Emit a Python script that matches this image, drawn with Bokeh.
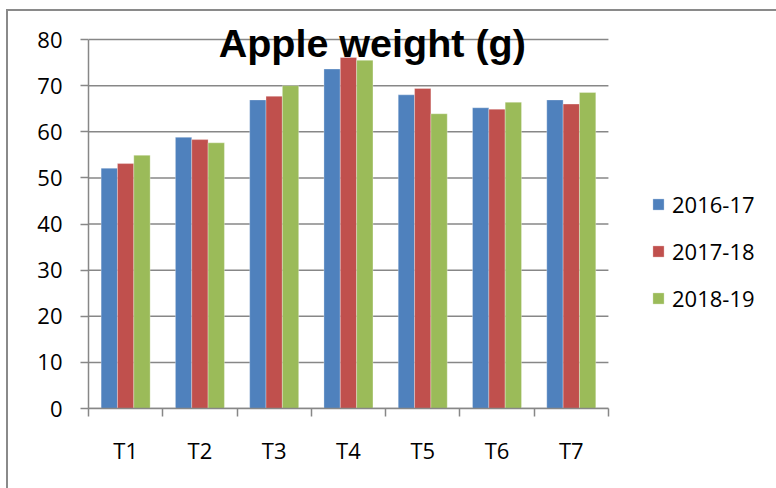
from bokeh.plotting import figure
from bokeh.models import (ColumnDataSource, Range1d, FixedTicker, Legend, LegendItem, Label)
from bokeh.transform import dodge
from bokeh.embed import file_html
from bokeh.resources import INLINE

categories = ["T1", "T2", "T3", "T4", "T5", "T6", "T7"]
series_names = ["2016-17", "2017-18", "2018-19"]
s2016_17 = [52.1, 58.8, 66.9, 73.6, 68.0, 65.2, 66.9]
s2017_18 = [53.1, 58.3, 67.7, 76.1, 69.4, 64.9, 66.0]
s2018_19 = [54.9, 57.6, 70.0, 75.5, 63.9, 66.4, 68.5]
y_ticks = [0, 10, 20, 30, 40, 50, 60, 70, 80]
title_text = "Apple weight (g)"

colors = ["#4F81BD", "#C0504D", "#9BBB59"]
GRID = "#878787"
FONT = "Open Sans"

n = len(categories)
centers = [i + 0.5 for i in range(n)]   # category slot centres on a 0..n axis
edges = list(range(n + 1))              # category boundaries
x_end = n + 2.263                       # blank room at the right for the legend
y_max = 80
y_end = y_max + 5.854                   # headroom so the title is not clipped

src = ColumnDataSource(dict(x=centers, cat=categories, a=s2016_17, b=s2017_18, c=s2018_19))
grid_src = ColumnDataSource(dict(x0=[0] * len(y_ticks), x1=[n] * len(y_ticks), y=y_ticks))

p = figure(width=776, height=488, x_range=Range1d(0, x_end), y_range=Range1d(0, y_end),
           output_backend="svg", toolbar_location=None, title=None,
           min_border_left=88, min_border_right=0, min_border_top=12, min_border_bottom=80)
p.styles = {
    "background": ("linear-gradient(#8a8a8a, #8a8a8a) 6px 9px / 2px 100% no-repeat, "
                   "linear-gradient(#8a8a8a, #8a8a8a) 6px 9px / 100% 2px no-repeat, white"),
}
p.outline_line_color = None
p.background_fill_alpha = 0
p.border_fill_alpha = 0
p.xgrid.visible = False
p.ygrid.visible = False

# horizontal gridlines over the category area only
p.segment(x0="x0", x1="x1", y0="y", y1="y", source=grid_src, line_color=GRID, line_width=1.5)

# y axis
ya = p.yaxis[0]
ya.bounds = (0, y_max)
ya.ticker = FixedTicker(ticks=y_ticks)
ya.axis_line_color = GRID
ya.axis_line_width = 1.5
ya.major_tick_line_color = GRID
ya.major_tick_line_width = 1.5
ya.major_tick_out = 8
ya.major_tick_in = 0
ya.minor_tick_line_color = None
ya.major_label_text_font = FONT
ya.major_label_text_font_size = "22px"
ya.major_label_text_color = "black"
ya.major_label_standoff = 18

# x axis: labels at slot centres, tick marks at slot boundaries
xa = p.xaxis[0]
xa.bounds = (0, n)
xa.ticker = FixedTicker(ticks=centers, minor_ticks=edges)
xa.major_label_overrides = {c: lab for c, lab in zip(centers, categories)}
xa.axis_line_color = GRID
xa.axis_line_width = 1.5
xa.major_tick_line_color = None
xa.major_tick_out = 0
xa.major_tick_in = 0
xa.minor_tick_line_color = GRID
xa.minor_tick_line_width = 1.5
xa.minor_tick_out = 8
xa.minor_tick_in = 0
xa.major_label_text_font = FONT
xa.major_label_text_font_size = "22px"
xa.major_label_text_color = "black"
xa.major_label_standoff = 18

renderers = []
offsets = [-0.22, 0.0, 0.22]
for col, off, color in zip(["a", "b", "c"], offsets, colors):
    r = p.vbar(x=dodge("x", off), top=col, width=0.22, source=src,
               fill_color=color, line_color="white", line_alpha=0.5, line_width=0.6)
    renderers.append(r)

legend = Legend(items=[LegendItem(label=nm, renderers=[r]) for nm, r in zip(series_names, renderers)],
                location=(563, 95), orientation="vertical")
legend.border_line_color = None
legend.background_fill_alpha = 0
legend.padding = 0
legend.margin = 0
legend.glyph_width = 14
legend.glyph_height = 14
legend.label_standoff = 7
legend.label_text_font = FONT
legend.label_text_font_size = "22px"
legend.label_text_color = "black"
legend.spacing = 17
p.add_layout(legend, "center")

title = Label(x=3.82, y=79.3, text=title_text, text_font="Liberation Sans", text_font_style="bold",
              text_font_size="39.5px", text_align="center", text_baseline="alphabetic", text_color="black")
p.add_layout(title)

open("out.html", "w").write(file_html(p, INLINE))
